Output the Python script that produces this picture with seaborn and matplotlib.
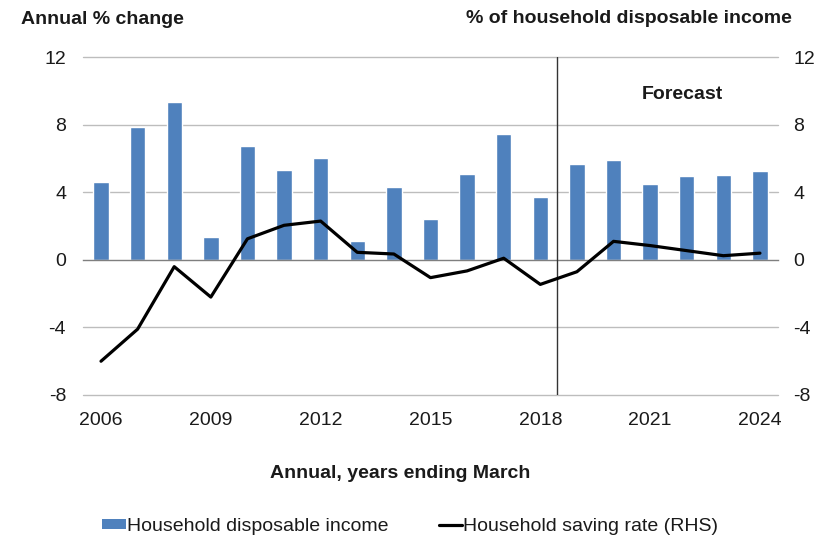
import numpy as np
import pandas as pd
import matplotlib
matplotlib.use("Agg")
import matplotlib.pyplot as plt
from matplotlib.patches import Patch
from matplotlib.lines import Line2D
import seaborn as sns

years = [str(y) for y in range(2006, 2025)]
disposable_income = [4.6, 7.9, 9.35, 1.35, 6.75, 5.35, 6.05, 1.15, 4.3, 2.4,
                     5.1, 7.45, 3.75, 5.7, 5.9, 4.5, 4.95, 5.0, 5.25]
saving_rate = [-6.0, -4.1, -0.4, -2.2, 1.25, 2.05, 2.3, 0.45, 0.35, -1.05,
               -0.65, 0.1, -1.45, -0.7, 1.1, 0.85, 0.55, 0.25, 0.4]
y_ticks = [-8, -4, 0, 4, 8, 12]
label_years = years[::3]

sns.set_theme(style="white")
plt.rcParams["font.family"] = ["Liberation Sans", "DejaVu Sans"]
plt.rcParams["axes.unicode_minus"] = False

FS = 14
TXT = "#1a1a1a"

df = pd.DataFrame({"year": years, "income": disposable_income, "saving": saving_rate})

fig = plt.figure(figsize=(8.32, 5.38), dpi=100)
ax = fig.add_axes([0.0994, 0.2658, 0.8360, 0.6277])

bar_blue = "#4F81BD"
sns.barplot(data=df, x="year", y="income", color=bar_blue, width=0.42,
            saturation=1, ax=ax, zorder=3)

ax2 = ax.twinx()
sns.pointplot(data=df, x="year", y="saving", color="black", markers="",
              linewidth=2.3, ax=ax2, zorder=4)

n = len(years)
for a in (ax, ax2):
    a.set_ylim(-8, 12)
    a.set_yticks(y_ticks)
    a.set_xlim(-0.5, n - 0.5)
    a.set_xlabel("")
    a.set_ylabel("")
    for s in a.spines.values():
        s.set_visible(False)

# horizontal gridlines and zero line
for v in y_ticks:
    if v != 0:
        ax.axhline(v, color="#BDBDBD", lw=1.0, zorder=1, clip_on=False)
ax.spines["bottom"].set_visible(True)
ax.spines["bottom"].set_position(("data", 0))
ax.spines["bottom"].set_color("#7F7F7F")
ax.spines["bottom"].set_linewidth(1.0)
ax.spines["bottom"].set_zorder(5)

boundaries = np.arange(-0.5, n, 3)
ax.set_xticks(boundaries)
ax.set_xticklabels([""] * len(boundaries))
ax.tick_params(axis="x", direction="out", length=5, width=1, color="#7F7F7F", bottom=True)

sec = ax.secondary_xaxis("bottom")
sec.set_xticks(np.arange(0, n, 3))
sec.set_xticklabels(label_years)
sec.tick_params(axis="x", length=0, pad=12, labelsize=FS, labelcolor=TXT)
sec.spines["bottom"].set_visible(False)

ax.tick_params(axis="y", left=False, length=0, labelsize=FS, pad=12, labelcolor=TXT)
ax2.tick_params(axis="y", right=False, length=0, labelsize=FS, pad=11, labelcolor=TXT)
ax2.set_xticks([])

# forecast divider
ax.axvline(12.46, ymin=0, ymax=1, color="#333333", lw=1.0, zorder=6)
ax.text(0.862, 0.891, "Forecast", transform=ax.transAxes, ha="center", va="center",
        fontsize=FS, fontweight="bold", color=TXT)

fig.text(0.025, 0.963, "Annual % change", ha="left", va="center",
         fontsize=FS, fontweight="bold", color=TXT)
fig.text(0.952, 0.965, "% of household disposable income", ha="right", va="center",
         fontsize=FS, fontweight="bold", color=TXT)
fig.text(0.481, 0.120, "Annual, years ending March", ha="center", va="center",
         fontsize=FS, fontweight="bold", color=TXT)

handles = [Patch(facecolor=bar_blue, edgecolor="none"),
           Line2D([0], [0], color="black", lw=2.3)]
fig.legend(handles, ["Household disposable income", "Household saving rate (RHS)"],
           loc="center", bbox_to_anchor=(0.493, 0.021), ncol=2, frameon=False,
           fontsize=FS, handlelength=1.2, handleheight=0.4, handletextpad=0.05,
           columnspacing=2.6, labelcolor=TXT)

fig.savefig("out.png", dpi=100)
